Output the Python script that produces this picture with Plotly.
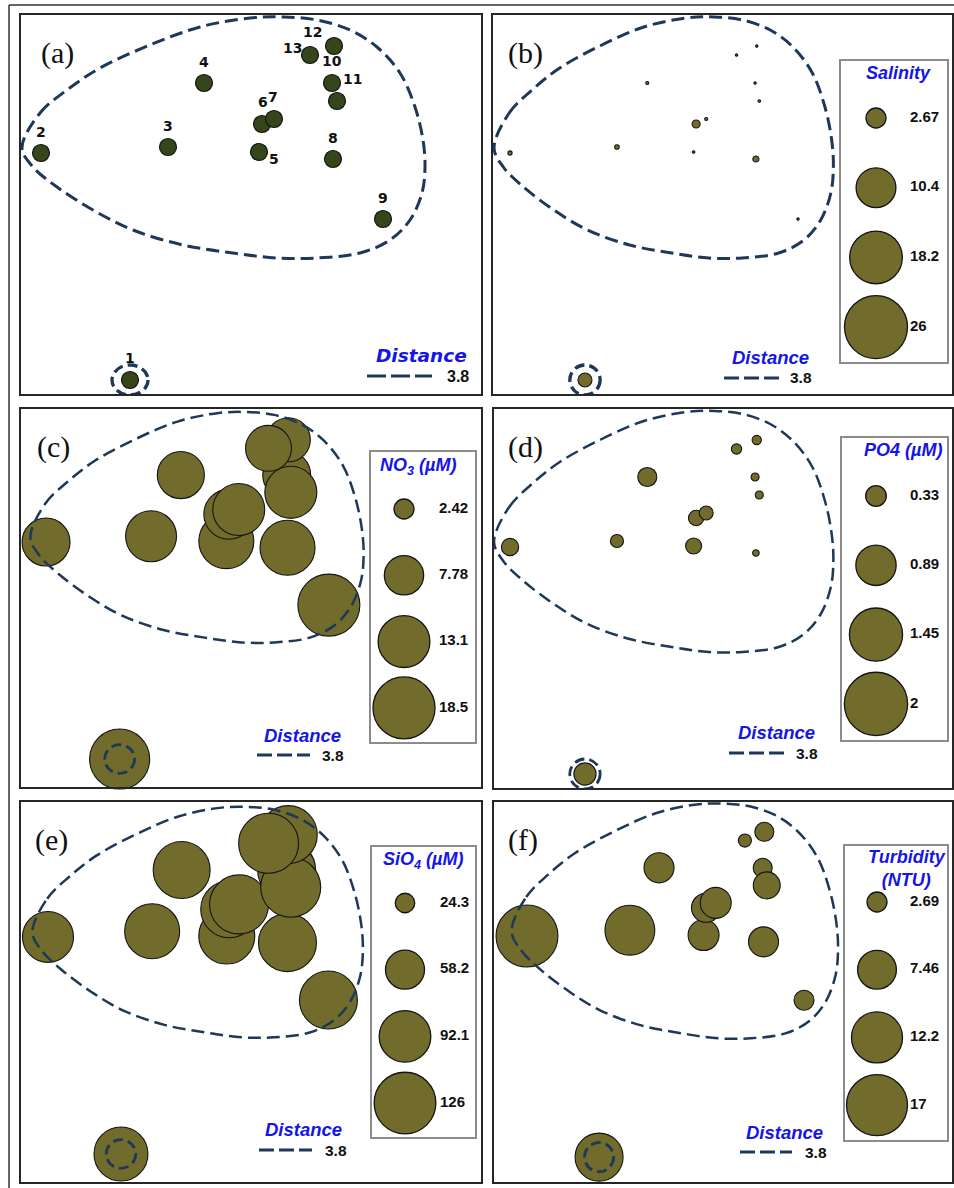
import plotly.graph_objects as go

W, H = 954, 1188

# ---- NMDS ordination of the 13 sampling stations ----
stations = ["1", "2", "3", "4", "5", "6", "7", "8", "9", "10", "11", "12", "13"]
nmds1 = [-0.91, -1.80, -0.53, -0.17, 0.38, 0.41, 0.53, 1.12, 1.62, 1.11, 1.16, 1.13, 0.89]
nmds2 = [-1.65, 0.62, 0.68, 1.32, 0.63, 0.91, 0.96, 0.56, -0.04, 1.32, 1.14, 1.69, 1.60]

# cluster contour at distance 3.8 enclosing stations 2-13
contour_x = [-1.99, -1.81, -1.54, -1.21, -0.71, -0.21, 0.29, 0.62, 0.96, 1.29, 1.56, 1.79, 1.94,
             2.02, 2.04, 2.01, 1.89, 1.69, 1.39, 0.96, 0.56, 0.12, -0.38, -0.88, -1.28, -1.64, -1.88]
contour_y = [0.67, 1.02, 1.25, 1.47, 1.70, 1.88, 1.97, 1.98, 1.95, 1.85, 1.68, 1.42, 1.08,
             0.75, 0.48, 0.22, -0.05, -0.25, -0.38, -0.43, -0.43, -0.38, -0.30, -0.15, 0.05, 0.28, 0.48]
# station 1 forms its own group at the same level
ring_rx, ring_ry = 0.18, 0.15

# ---- environmental variables per station ----
salinity = [1.34, 0.17, 0.19, 0.12, 0.10, 0.48, 0.12, 0.30, 0.09, 0.09, 0.10, 0.09, 0.09]
no3 = [17.4, 11.3, 12.7, 10.9, 14.7, 12.2, 13.2, 14.7, 18.5, 11.3, 13.2, 9.6, 10.4]
po4 = [0.36, 0.27, 0.21, 0.30, 0.25, 0.24, 0.22, 0.15, 0.10, 0.16, 0.16, 0.17, 0.18]
sio4 = [99.5, 90.2, 102.8, 109.4, 106.1, 109.4, 116.3, 112.8, 112.8, 112.8, 119.8, 112.8, 119.8]
turbidity = [10.9, 17.5, 11.7, 4.85, 5.1, 4.6, 5.1, 4.85, 2.69, 2.53, 4.1, 2.53, 1.70]

# bubble key values
salinity_keys = [2.67, 10.4, 18.2, 26]
no3_keys = [2.42, 7.78, 13.1, 18.5]
po4_keys = [0.33, 0.89, 1.45, 2]
sio4_keys = [24.3, 58.2, 92.1, 126]
turbidity_keys = [2.69, 7.46, 12.2, 17]

OLIVE = "#716b2c"
DARK_GREEN = "#35461a"
NAVY = "#1d3858"
BLUE = "#1515e8"
EDGE = "#141414"

SANS = "Liberation Sans, Arial, sans-serif"


def px(x):
    return x / W


def py(y):
    return 1 - y / H


def size_scale(keys, dmin, dmax):
    # bubble area grows linearly with the value (offset so the key spans dmin..dmax)
    a = (dmax ** 2 - dmin ** 2) / (keys[-1] - keys[0])
    v0 = keys[0] - dmin ** 2 / a
    return lambda v: max(a * (v - v0), 0.0) ** 0.5


# panel box (px) and plotting frame: pixel = origin + scale * unit, unit = 100 * nmds
panels = [
    dict(tag="(a)", tagx=39, box=(21, 15, 481, 394), frame=(21.0, 1.0, 15.0, 1.0),
         values=None, keys=None, title=None,
         dist=dict(c=(421, 355), line=(367, 432, 376), v=445, big=True)),
    dict(tag="(b)", tagx=506, box=(493, 15, 952, 394), frame=(493.2, 0.842, 15.0, 1.0),
         values=salinity, keys=salinity_keys, title="Salinity", dd=(20, 63),
         leg=dict(box=(841, 61, 947, 362), y0=118, step=69.7, cx=876, lx=910, tc=(898, 73)),
         dist=dict(c=(770, 357), line=(724, 779, 378), v=788, big=False)),
    dict(tag="(c)", tagx=35, box=(21, 409, 481, 787), frame=(29.5, 0.827, 410.1, 0.956),
         values=no3, keys=no3_keys, title="NO<sub>3</sub> (µM)", dd=(20, 62),
         leg=dict(box=(371, 452, 475, 742), y0=509, step=66.3, cx=404, lx=439, tc=(418, 466)),
         dist=dict(c=(302, 735), line=(257, 310, 755), v=320, big=False)),
    dict(tag="(d)", tagx=506, box=(494, 409, 952, 788), frame=(493.2, 0.842, 409.0, 1.0),
         values=po4, keys=po4_keys, title="PO4 (µM)", dd=(20.7, 63.3),
         leg=dict(box=(842, 438, 947, 740), y0=496, step=69.3, cx=876, lx=910, tc=(903, 450)),
         dist=dict(c=(776, 732), line=(729, 784, 753), v=794, big=False)),
    dict(tag="(e)", tagx=33, box=(21, 802, 481, 1182), frame=(31.6, 0.82, 805.0, 0.956),
         values=sio4, keys=sio4_keys, title="SiO<sub>4</sub> (µM)", dd=(19.5, 61.7),
         leg=dict(box=(372, 847, 475, 1137), y0=903, step=66.7, cx=405, lx=440, tc=(423, 860)),
         dist=dict(c=(303, 1129), line=(259, 312, 1150), v=323, big=False)),
    dict(tag="(f)", tagx=506, box=(494, 802, 952, 1182), frame=(510.8, 0.81, 801.6, 0.974),
         values=turbidity, keys=turbidity_keys, title="Turbidity<br>(NTU)", dd=(20, 61),
         leg=dict(box=(845, 846, 947, 1140), y0=902, step=67.7, cx=877, lx=910, tc=(907, 868)),
         dist=dict(c=(784, 1132), line=(740, 792, 1152), v=803, big=False)),
]

# station label offsets in panel (a), px (dx right, dy down)
label_offsets = {"1": (0, -22), "2": (0, -21), "3": (0, -21), "4": (0, -21), "5": (15, 7),
                 "6": (1, -22), "7": (-1, -22), "8": (0, -21), "9": (0, -21), "10": (0, -22),
                 "11": (15, -22), "12": (-22, -14), "13": (-18, -7)}

fig = go.Figure()
layout = {}
shapes = []
annotations = []


def names(n):
    return ("xaxis" if n == 1 else f"xaxis{n}", "yaxis" if n == 1 else f"yaxis{n}",
            "x" if n == 1 else f"x{n}", "y" if n == 1 else f"y{n}")


hidden = dict(showgrid=False, zeroline=False, showticklabels=False, ticks="", fixedrange=True)

for n, p in enumerate(panels, start=1):
    L, T, R, B = p["box"]
    ox, sx, oy, sy = p["frame"]
    xa, ya, xr, yr = names(n)
    layout[xa] = dict(domain=[px(L), px(R)], anchor=yr,
                      range=[((L - ox) / sx - 200) / 100, ((R - ox) / sx - 200) / 100],
                      showline=True, mirror=True, linecolor="#262626", linewidth=2, **hidden)
    layout[ya] = dict(domain=[py(B), py(T)], anchor=xr,
                      range=[(200 - (B - oy) / sy) / 100, (200 - (T - oy) / sy) / 100],
                      showline=True, mirror=True, linecolor="#262626", linewidth=2, **hidden)

    if p["values"] is None:
        fig.add_trace(go.Scatter(
            x=nmds1, y=nmds2, mode="markers", xaxis=xr, yaxis=yr, cliponaxis=False,
            marker=dict(size=17, color=DARK_GREEN, opacity=1, line=dict(color=EDGE, width=1.2)),
            hoverinfo="text", text=stations))
        for s, x, y in zip(stations, nmds1, nmds2):
            dx, dy = label_offsets[s]
            annotations.append(dict(x=x, y=y, xref=xr, yref=yr, text=f"<b>{s}</b>",
                                    showarrow=False, xshift=dx, yshift=-dy,
                                    font=dict(family="DejaVu Sans, sans-serif", size=14,
                                              color="#111")))
    else:
        scale = size_scale(p["keys"], *p["dd"])
        sizes = [scale(v) for v in p["values"]]
        keep = [i for i, d in enumerate(sizes) if d > 0]
        fig.add_trace(go.Scatter(
            x=[nmds1[i] for i in keep], y=[nmds2[i] for i in keep], mode="markers",
            xaxis=xr, yaxis=yr, cliponaxis=False,
            marker=dict(size=[sizes[i] for i in keep], sizemode="diameter", color=OLIVE,
                        opacity=1, line=dict(color=EDGE, width=1.1)),
            hoverinfo="text", text=[f"{stations[i]}: {p['values'][i]}" for i in keep]))

    lw = 3.0 if n <= 2 else 2.5
    fig.add_trace(go.Scatter(
        x=contour_x + contour_x[:1], y=contour_y + contour_y[:1], mode="lines",
        xaxis=xr, yaxis=yr, cliponaxis=False, hoverinfo="skip",
        line=dict(color=NAVY, width=lw, dash="13px,6px", shape="spline", smoothing=1.0)))
    shapes.append(dict(type="circle", xref=xr, yref=yr,
                       x0=nmds1[0] - ring_rx, x1=nmds1[0] + ring_rx,
                       y0=nmds2[0] - ring_ry, y1=nmds2[0] + ring_ry,
                       line=dict(color=NAVY, width=lw + 0.3, dash="10px,5px"), layer="above"))

    # panel tag
    annotations.append(dict(x=px(p["tagx"]), y=py(T + 38), xref="paper", yref="paper",
                            xanchor="left", yanchor="middle", showarrow=False, text=p["tag"],
                            font=dict(family="Liberation Serif, Times New Roman, serif",
                                      size=30, color="#111")))

    # distance key
    d = p["dist"]
    dfont = "DejaVu Sans, sans-serif" if d["big"] else SANS
    annotations.append(dict(x=px(d["c"][0]), y=py(d["c"][1]), xref="paper", yref="paper",
                            xanchor="center", yanchor="middle", showarrow=False,
                            text="<b><i>Distance</i></b>",
                            font=dict(family=dfont, size=18.5, color=BLUE)))
    x0, x1, yl = d["line"]
    shapes.append(dict(type="line", xref="paper", yref="paper", x0=px(x0), x1=px(x1),
                       y0=py(yl), y1=py(yl),
                       line=dict(color=NAVY, width=3.2,
                                 dash="19px,5px" if d["big"] else "15px,5px")))
    annotations.append(dict(x=px(d["v"]), y=py(yl), xref="paper", yref="paper",
                            xanchor="left", yanchor="middle", showarrow=False, text="<b>3.8</b>",
                            font=dict(family=SANS, size=16 if d["big"] else 15.5, color="#111")))

# ---- bubble keys ----
for k, p in enumerate(panels):
    if p["values"] is None:
        continue
    n = 6 + k
    lg = p["leg"]
    L, T, R, B = lg["box"]
    xa, ya, xr, yr = names(n)
    layout[xa] = dict(domain=[px(L), px(R)], anchor=yr, range=[L, R],
                      showline=True, mirror=True, linecolor="#8c8c8c", linewidth=1.5, **hidden)
    layout[ya] = dict(domain=[py(B), py(T)], anchor=xr,
                      range=[(B - lg["y0"]) / lg["step"], (T - lg["y0"]) / lg["step"]],
                      showline=True, mirror=True, linecolor="#8c8c8c", linewidth=1.5, **hidden)
    scale = size_scale(p["keys"], *p["dd"])
    idx = list(range(len(p["keys"])))
    fig.add_trace(go.Scatter(
        x=[lg["cx"]] * len(idx), y=idx, mode="markers", xaxis=xr, yaxis=yr, cliponaxis=False,
        marker=dict(size=[scale(v) for v in p["keys"]], sizemode="diameter", color=OLIVE,
                    opacity=1, line=dict(color=EDGE, width=1.3)),
        hoverinfo="skip"))
    fig.add_trace(go.Scatter(
        x=[lg["lx"]] * len(idx), y=idx, mode="text", xaxis=xr, yaxis=yr, cliponaxis=False,
        text=[f"<b>{v:g}</b>" for v in p["keys"]], textposition="middle right",
        textfont=dict(family=SANS, size=15, color="#111"), hoverinfo="skip"))
    annotations.append(dict(x=px(lg["tc"][0]), y=py(lg["tc"][1]), xref="paper", yref="paper",
                            xanchor="center", yanchor="middle", showarrow=False,
                            text=f"<b><i>{p['title']}</i></b>",
                            font=dict(family=SANS, size=18, color=BLUE)))

# outer frame
shapes.append(dict(type="line", xref="paper", yref="paper", x0=px(9), x1=px(9), y0=py(5), y1=0,
                   line=dict(color="#333", width=1.5)))
shapes.append(dict(type="line", xref="paper", yref="paper", x0=px(9), x1=1, y0=py(5), y1=py(5),
                   line=dict(color="#333", width=1.5)))

fig.update_layout(
    width=W, height=H, margin=dict(l=0, r=0, t=0, b=0),
    paper_bgcolor="white", plot_bgcolor="rgba(0,0,0,0)",
    showlegend=False, shapes=shapes, annotations=annotations, **layout)

fig.write_html("out.html")
